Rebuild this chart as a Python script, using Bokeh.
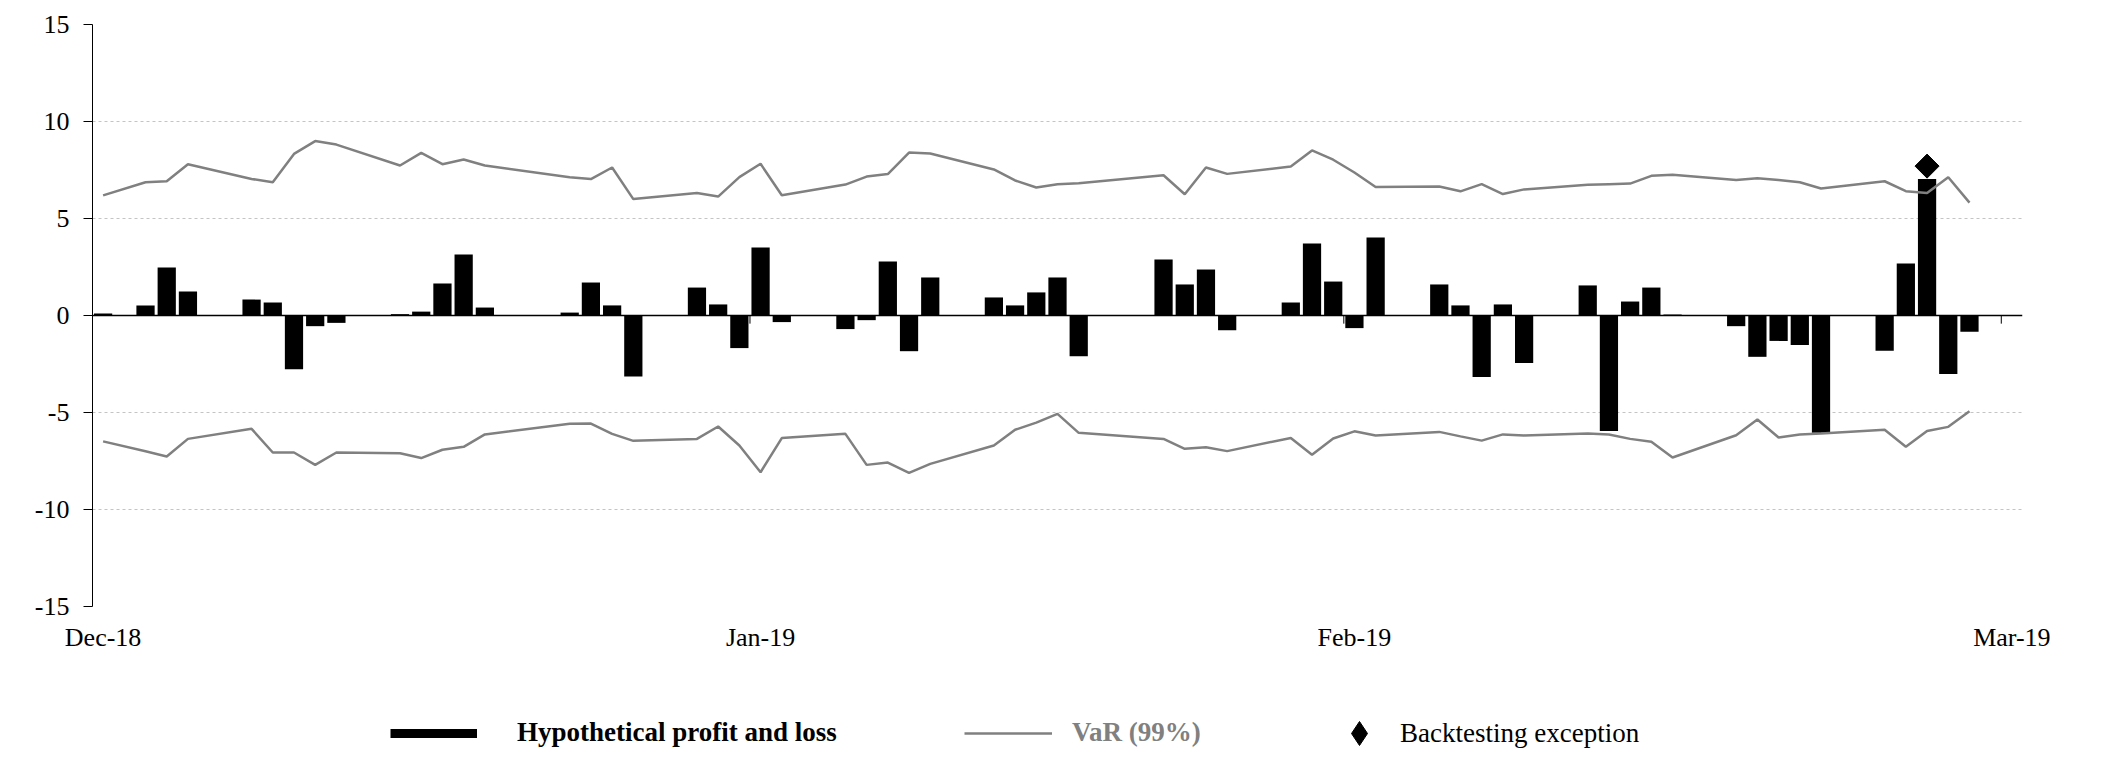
import math
from bokeh.plotting import figure
from bokeh.layouts import column
from bokeh.models import Range1d, FixedTicker, Span, Legend, LegendItem
from bokeh.embed import file_html
from bokeh.resources import INLINE

# ---- data (one slot per calendar position on the chart's axis) ----
slot = [0, 2, 3, 4, 7, 8, 9, 10, 11, 14, 15, 16, 17, 18, 22, 23, 24, 25,
        28, 29, 30, 31, 32, 35, 36, 37, 38, 39, 42, 43, 44, 45, 46,
        50, 51, 52, 53, 56, 57, 58, 59, 60, 63, 64, 65, 66, 67,
        70, 71, 72, 73, 74, 77, 78, 79, 80, 81, 84, 85, 86, 87, 88]

pnl = [0.10, 0.52, 2.47, 1.24, 0.82, 0.67, -2.77, -0.55, -0.38, 0.07, 0.20, 1.65, 3.14, 0.41,
       0.15, 1.70, 0.52, -3.14, 1.44, 0.57, -1.68, 3.51, -0.34, -0.70, -0.24, 2.78, -1.84, 1.96,
       0.93, 0.52, 1.19, 1.96, -2.10, 2.89, 1.60, 2.37, -0.76, 0.67, 3.71, 1.75, -0.65, 4.02,
       1.60, 0.52, -3.17, 0.57, -2.45, 1.55, -5.95, 0.72, 1.44, 0.05, -0.55, -2.13, -1.31, -1.52,
       -6.05, -1.82, 2.68, 7.04, -3.01, -0.84]

var_up = [6.19, 6.87, 6.92, 7.80, 7.04, 6.87, 8.33, 8.99, 8.81, 7.73, 8.38, 7.80, 8.04, 7.73,
          7.13, 7.03, 7.63, 6.00, 6.31, 6.13, 7.13, 7.82, 6.20, 6.75, 7.16, 7.29, 8.40, 8.35,
          7.53, 6.96, 6.60, 6.77, 6.82, 7.23, 6.25, 7.63, 7.30, 7.68, 8.51, 8.03, 7.37, 6.62,
          6.65, 6.40, 6.77, 6.26, 6.50, 6.74, 6.77, 6.80, 7.20, 7.25, 6.98, 7.08, 6.98, 6.87,
          6.55, 6.92, 6.41, 6.31, 7.13, 5.82]

var_low = [-6.49, -7.00, -7.27, -6.36, -5.84, -7.06, -7.06, -7.70, -7.06, -7.10, -7.35, -6.92,
           -6.77, -6.13, -5.58, -5.57, -6.10, -6.46, -6.36, -5.72, -6.70, -8.08, -6.32, -6.10,
           -7.70, -7.58, -8.11, -7.65, -6.70, -5.89, -5.52, -5.07, -6.05, -6.36, -6.87, -6.79,
           -6.99, -6.31, -7.18, -6.34, -5.97, -6.19, -6.00, -6.23, -6.45, -6.13, -6.18, -6.08,
           -6.13, -6.36, -6.51, -7.32, -6.17, -5.36, -6.29, -6.13, -6.08, -5.89, -6.77, -5.95,
           -5.74, -4.93]

exception_slot = [86]
exception_value = [7.70]

month_labels = ["Dec-18", "Jan-19", "Feb-19", "Mar-19"]
month_label_slot = [0, 31, 59, 90]
month_tick_slot = [30.5, 58.5, 89.5]
y_ticks = [-15, -10, -5, 0, 5, 10, 15]

FONT = "Liberation Serif"
GREY = "#808080"
W = 2088

p = figure(width=W, height=680, title=None,
           x_range=Range1d(-0.5, 90.5), y_range=Range1d(-15, 15),
           output_backend="svg", toolbar_location=None,
           min_border_left=92, min_border_top=24, min_border_right=66, min_border_bottom=74)
p.outline_line_color = None
p.background_fill_color = "white"

# grid
p.xgrid.grid_line_color = None
p.ygrid.ticker = FixedTicker(ticks=y_ticks)
p.ygrid.grid_line_color = "#c4c4c4"
p.ygrid.grid_line_dash = "3 3"
p.ygrid.grid_line_width = 1

# y axis
p.yaxis.ticker = FixedTicker(ticks=y_ticks)
p.yaxis.major_label_overrides = {v: str(v) for v in y_ticks}
p.yaxis.axis_line_color = "black"
p.yaxis.major_tick_out = 9
p.yaxis.major_tick_in = 0
p.yaxis.minor_tick_line_color = None
p.yaxis.major_label_standoff = 14
p.yaxis.major_label_text_font = FONT
p.yaxis.major_label_text_font_size = "26px"
p.yaxis.major_label_text_color = "black"

# x axis (labels only)
p.xaxis.ticker = FixedTicker(ticks=month_label_slot)
p.xaxis.major_label_overrides = dict(zip(month_label_slot, month_labels))
p.xaxis.axis_line_color = None
p.xaxis.major_tick_line_color = None
p.xaxis.minor_tick_line_color = None
p.xaxis.major_tick_out = 0
p.xaxis.major_tick_in = 0
p.xaxis.major_label_standoff = 16
p.xaxis.major_label_text_font = FONT
p.xaxis.major_label_text_font_size = "26px"
p.xaxis.major_label_text_color = "black"

# bars
p.vbar(x=slot, top=pnl, width=0.86, fill_color="black", line_color=None)

# zero line and month tick marks
p.add_layout(Span(location=0, dimension="width", line_color="black", line_width=1.5))
p.segment(x0=month_tick_slot, x1=month_tick_slot, y0=[0] * len(month_tick_slot),
          y1=[-0.42] * len(month_tick_slot), line_color="black", line_width=1)

# VaR lines
p.line(slot, var_up, line_color=GREY, line_width=2.5)
p.line(slot, var_low, line_color=GREY, line_width=2.5)

# exception
p.scatter(exception_slot, exception_value, marker="square", angle=math.pi / 4,
          size=17, fill_color="black", line_color="black")

# ---- legend row (separate strip below the chart) ----
lf = figure(width=W, height=95, title=None, x_range=Range1d(0, 1), y_range=Range1d(0, 1),
            output_backend="svg", toolbar_location=None,
            x_axis_type=None, y_axis_type=None,
            min_border_left=0, min_border_right=0, min_border_top=0, min_border_bottom=0)
lf.outline_line_color = None
lf.xgrid.grid_line_color = None
lf.ygrid.grid_line_color = None

# proxies drawn outside the visible range; only their legend samples show
off = [-10, -9]
pnl_proxy = lf.line(x=off, y=off, line_color="black", line_width=9)
var_proxy = lf.line(x=off, y=off, line_color=GREY, line_width=2.5)
exc_proxy = lf.scatter(x=off, y=off, marker="diamond",
                       size=24, fill_color="black", line_color="black")

def make_legend(label, renderer, x, y, gw, gh, standoff, color, style):
    lg = Legend(items=[LegendItem(label=label, renderers=[renderer])],
                location=(x, y), orientation="horizontal",
                glyph_width=gw, glyph_height=gh, label_standoff=standoff,
                padding=0, margin=0, spacing=0,
                border_line_color=None, background_fill_alpha=0,
                label_text_font=FONT, label_text_font_size="27px",
                label_text_color=color, label_text_font_style=style)
    lf.add_layout(lg, "center")

make_legend("Hypothetical profit and loss", pnl_proxy, 298, 27, 87, 30, 40, "black", "bold")
make_legend("VaR (99%)", var_proxy, 872, 27, 88, 30, 20, GREY, "bold")
make_legend("Backtesting exception", exc_proxy, 1237, 12, 60, 60, 11, "black", "normal")

open("out.html", "w").write(file_html(column(p, lf), INLINE))
